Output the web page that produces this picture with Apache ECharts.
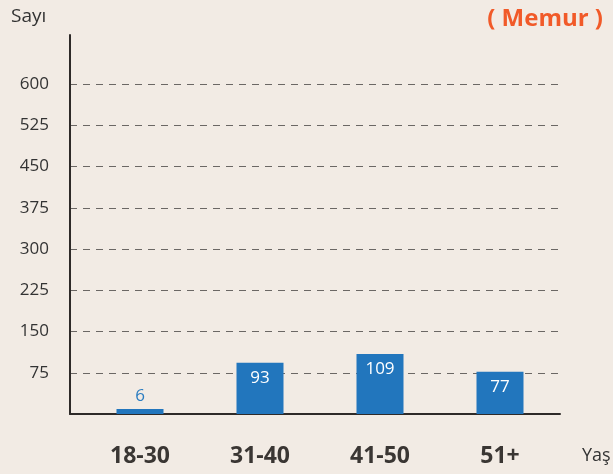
<!DOCTYPE html>
<html>
<head>
<meta charset="utf-8">
<script src="https://cdn.jsdelivr.net/npm/echarts@6/dist/echarts.min.js"></script>
<style>
  html, body { margin: 0; padding: 0; background: #f2ebe4; }
  #chart { width: 613px; height: 474px; }
</style>
</head>
<body>
<div id="chart"></div>
<script>
const ageGroups = ['18-30', '31-40', '41-50', '51+'];
const counts = [6, 93, 109, 77];
const yTicks = [0, 75, 150, 225, 300, 375, 450, 525, 600];

const chart = echarts.init(document.getElementById('chart'));
const font = '"Open Sans", "Noto Sans", sans-serif';

const option = {
  backgroundColor: '#f2ebe4',
  animation: false,
  title: [
    { text: 'Sayı', left: 6, top: 2, textStyle: { fontFamily: font, fontSize: 19, fontWeight: 'normal', color: '#333' } },
    { text: '( Memur )', right: 5, top: 2, textStyle: { fontFamily: font, fontSize: 24, fontWeight: 'bold', color: '#f15a29' } },
    { text: 'Yaş', left: 577, top: 442, textStyle: { fontFamily: font, fontSize: 18, fontWeight: 'normal', color: '#333' } }
  ],
  grid: [
    // grid for gridlines, tick labels and the x axis line
    { left: 70, right: 53, top: 84, bottom: 60 },
    // grid for the bars
    { left: 80, right: 53, top: 35, bottom: 60 }
  ],
  xAxis: [
    {
      gridIndex: 0, type: 'value', min: 0, max: 1,
      axisLine: { show: true, onZero: false, lineStyle: { color: '#2e2a28', width: 2 } },
      axisTick: { show: false }, axisLabel: { show: false }, splitLine: { show: false }
    },
    {
      gridIndex: 1, type: 'category', data: ageGroups,
      axisLine: { show: false }, axisTick: { show: false },
      axisLabel: { margin: 31, fontFamily: font, fontSize: 23, fontWeight: 'bold', color: '#3a3633' }
    }
  ],
  yAxis: [
    {
      gridIndex: 0, type: 'value', min: yTicks[0], max: yTicks[yTicks.length - 1], interval: 75,
      axisLine: { show: false }, axisTick: { show: false },
      axisLabel: {
        margin: 21, fontFamily: font, fontSize: 17, color: '#333',
        formatter: v => (v === 0 ? '' : v)
      },
      splitLine: { show: true, lineStyle: { color: '#6b6764', type: [7, 6], width: 1 } }
    },
    {
      gridIndex: 1, type: 'value', min: 0, max: 689, offset: 10,
      axisLine: { show: true, lineStyle: { color: '#2e2a28', width: 2 } },
      axisTick: { show: false }, axisLabel: { show: false }, splitLine: { show: false }
    }
  ],
  series: [
    {
      type: 'bar',
      xAxisIndex: 1, yAxisIndex: 1,
      barWidth: 47,
      barMinHeight: 5,
      itemStyle: { color: '#2276bd' },
      label: {
        show: true, position: 'insideTop', distance: 7,
        fontFamily: font, fontSize: 17, color: '#ffffff'
      },
      data: counts.map(v => v < 30
        ? { value: v, label: { position: 'top', distance: 4, color: '#2a7cc0' } }
        : v)
    }
  ]
};

chart.setOption(option);
</script>
</body>
</html>
